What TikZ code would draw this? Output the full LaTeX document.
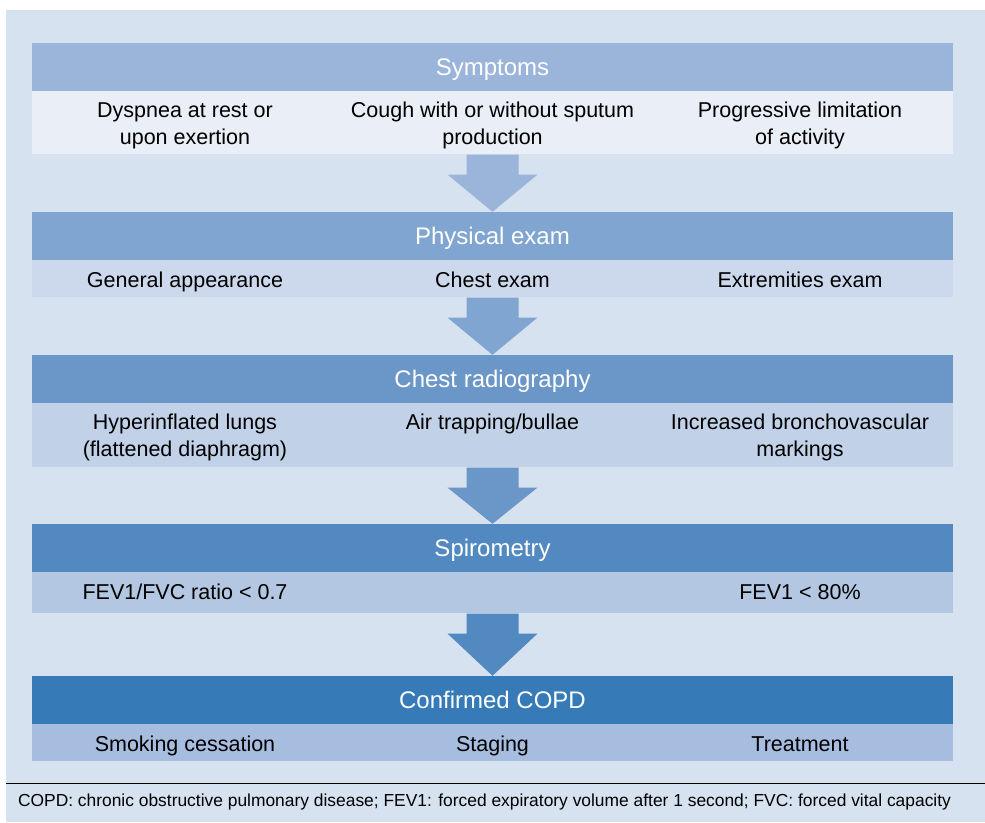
\documentclass[tikz,border=0pt]{standalone}
\usepackage{fontspec}
\setmainfont{Liberation Sans}
\usepackage{xcolor}
\definecolor{panelBg}{HTML}{D6E2F0}
\definecolor{symHd}{HTML}{9BB5DA}
\definecolor{symRw}{HTML}{E9EEF7}
\definecolor{phyHd}{HTML}{80A5D0}
\definecolor{phyRw}{HTML}{CCD9EC}
\definecolor{radHd}{HTML}{6B96C8}
\definecolor{radRw}{HTML}{C1D1E8}
\definecolor{spiHd}{HTML}{5189C0}
\definecolor{spiRw}{HTML}{B3C7E3}
\definecolor{copdHd}{HTML}{367BB7}
\definecolor{copdRw}{HTML}{A7BDDF}
\usetikzlibrary{positioning,calc}
\tikzset{%
  stageHead/.style={%
    rectangle,
    minimum width=921pt,
    minimum height=48pt,
    inner sep=0pt,
    text=white,
    text height=17pt,
    text depth=0pt,
    font=\fontsize{24}{28}\selectfont
  },
  stageRow/.style={%
    rectangle,
    minimum width=921pt,
    inner sep=0pt
  },
  itemText/.style={%
    anchor=north,
    align=center,
    inner sep=0pt,
    font=\fontsize{21.5}{27}\selectfont
  },
  noteText/.style={%
    inner sep=0pt,
    font=\fontsize{17.4}{20}\selectfont
  }
}
% big down arrow between two stages
\newcommand{\stagearrow}[3]{%
  \fill[#3] ($(#1.south)+(-26,0)$) -- ++(0,20) -- ++(-19,0) -- (#2.north)
    -- ($(#1.south)+(45,20)$) -- ++(-19,0) -- ($(#1.south)+(26,0)$) -- cycle;
}

\begin{document}
\begin{tikzpicture}[x=1pt,y=-1pt]
  \useasboundingbox (0,0) rectangle (985,822);
  \fill[panelBg] (6,10) rectangle (985,822);

  % Symptoms
  \node[stageHead, fill=symHd] (symHead) at (492.5,67) {Symptoms};
  \node[stageRow, fill=symRw, minimum height=63pt, below=0pt of symHead] (symRow) {};
  \node[itemText] (symA) at ($(symRow.north)+(-307.5,11)$) {Dyspnea at rest or\\upon exertion};
  \node[itemText] (symB) at ($(symRow.north)+(0,11)$) {Cough with or without sputum\\production};
  \node[itemText] (symC) at ($(symRow.north)+(307.5,11)$) {Progressive limitation\\of activity};

  % Physical exam
  \node[stageHead, fill=phyHd] (phyHead) at (492.5,236) {Physical exam};
  \node[stageRow, fill=phyRw, minimum height=37pt, below=0pt of phyHead] (phyRow) {};
  \node[itemText] (phyA) at ($(phyRow.north)+(-307.5,12)$) {General appearance};
  \node[itemText] (phyB) at ($(phyRow.north)+(0,12)$) {Chest exam};
  \node[itemText] (phyC) at ($(phyRow.north)+(307.5,12)$) {Extremities exam};

  % Chest radiography
  \node[stageHead, fill=radHd] (radHead) at (492.5,379) {Chest radiography};
  \node[stageRow, fill=radRw, minimum height=64pt, below=0pt of radHead] (radRow) {};
  \node[itemText] (radA) at ($(radRow.north)+(-307.5,11)$) {Hyperinflated lungs\\(flattened diaphragm)};
  \node[itemText] (radB) at ($(radRow.north)+(0,11)$) {Air trapping/bullae};
  \node[itemText] (radC) at ($(radRow.north)+(307.5,11)$) {Increased bronchovascular\\markings};

  % Spirometry
  \node[stageHead, fill=spiHd] (spiHead) at (492.5,548) {Spirometry};
  \node[stageRow, fill=spiRw, minimum height=41pt, below=0pt of spiHead] (spiRow) {};
  \node[itemText] (spiA) at ($(spiRow.north)+(-307.5,12)$) {FEV1/FVC ratio < 0.7};
  \node[itemText] (spiC) at ($(spiRow.north)+(307.5,12)$) {FEV1 < 80\%};

  % Confirmed COPD
  \node[stageHead, fill=copdHd] (copdHead) at (492.5,700) {Confirmed COPD};
  \node[stageRow, fill=copdRw, minimum height=37pt, below=0pt of copdHead] (copdRow) {};
  \node[itemText] (copdA) at ($(copdRow.north)+(-307.5,12)$) {Smoking cessation};
  \node[itemText] (copdB) at ($(copdRow.north)+(0,12)$) {Staging};
  \node[itemText] (copdC) at ($(copdRow.north)+(307.5,12)$) {Treatment};

  \stagearrow{symRow}{phyHead}{symHd}
  \stagearrow{phyRow}{radHead}{phyHd}
  \stagearrow{radRow}{spiHead}{radHd}
  \stagearrow{spiRow}{copdHead}{spiHd}

  % footnote
  \draw[line width=1pt] (6,783) -- (985,783);
  \node[noteText] (note) at (484.5,802) {COPD: chronic obstructive pulmonary disease; FEV1: forced expiratory volume after 1 second; FVC: forced vital capacity};
\end{tikzpicture}
\end{document}
